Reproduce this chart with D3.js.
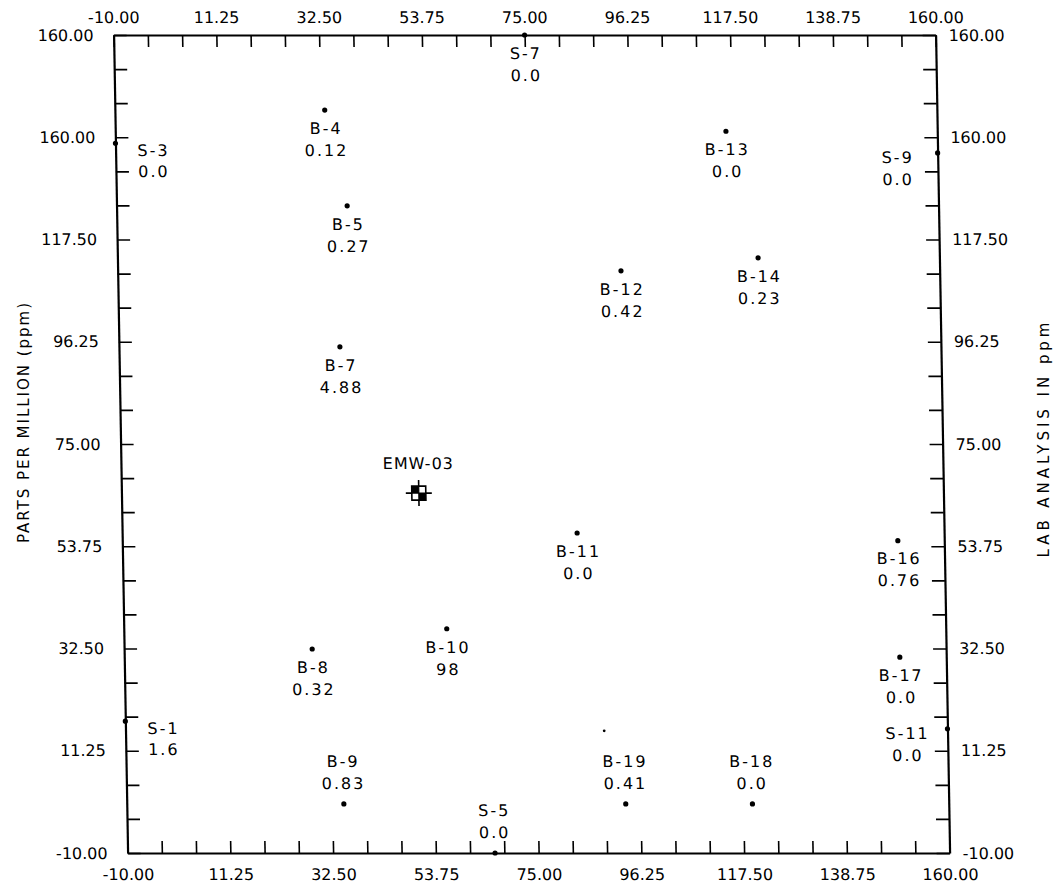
<!DOCTYPE html>
<html><head><meta charset="utf-8">
<script src="https://cdn.jsdelivr.net/npm/d3@7"></script>
<style>
html,body{margin:0;padding:0;background:#fff;}
svg{display:block;background:#fff;}
text{font-family:"DejaVu Sans",sans-serif;fill:#000;}
</style></head><body>
<svg id="chart" width="1054" height="884"></svg>
<script>
// ---- data ----
const xTickValues = [-10, 11.25, 32.5, 53.75, 75, 96.25, 117.5, 138.75, 160];
const xTickLabels = ["-10.00","11.25","32.50","53.75","75.00","96.25","117.50","138.75","160.00"];
const yTickValues = [-10, 11.25, 32.5, 53.75, 75, 96.25, 117.5, 138.75, 160];
const yTickLabels = ["-10.00","11.25","32.50","53.75","75.00","96.25","117.50","160.00","160.00"];
const minorTicksPerMajor = 3;

const sampleNames  = ["S-7","B-4","S-3","B-13","S-9","B-5","B-14","B-12","B-7","B-11","B-16","B-10","B-8","B-17","S-1","S-11","B-9","B-19","B-18","S-5"];
const sampleX      = [75.0, 33.4, -10, 116.3, 160, 37.7, 122.5, 94.1, 35.7, 84.1, 150.4, 56.8, 28.9, 150.4, -10, 160, 34.9, 93.2, 119.4, 66.0];
const sampleY      = [160, 144.4, 137.5, 140.0, 135.5, 124.5, 113.7, 111.0, 95.2, 56.5, 54.9, 36.6, 32.4, 30.7, 17.4, 15.8, 0.2, 0.2, 0.2, -10];
const sampleValues = ["0.0","0.12","0.0","0.0","0.0","0.27","0.23","0.42","4.88","0.0","0.76","98","0.32","0.0","1.6","0.0","0.83","0.41","0.0","0.0"];

// unlabeled stray mark
const strayX = [89.0];
const strayY = [15.4];

const wellNames = ["EMW-03"];
const wellX = [51.5];
const wellY = [64.8];

const leftTitle = "PARTS PER MILLION (ppm)";
const rightTitle = "LAB ANALYSIS IN ppm";

// ---- layout ----
const originX = 113.6, originY = 35, W = 822, H = 818, skewDeg = 0.98;
const svg = d3.select("#chart");

const x = d3.scaleLinear().domain([-10, 160]).range([0, W]);
const y = d3.scaleLinear().domain([-10, 160]).range([H, 0]);

const minorTicks = [];
for (let i = 0; i < xTickValues.length - 1; i++) {
  for (let j = 0; j < minorTicksPerMajor; j++) {
    minorTicks.push(xTickValues[i] + (xTickValues[i+1] - xTickValues[i]) * j / minorTicksPerMajor);
  }
}
minorTicks.push(xTickValues[xTickValues.length - 1]);

const g = svg.append("g").attr("transform", `translate(${originX},${originY}) skewX(${skewDeg})`);

function styleAxis(sel, fs) {
  sel.selectAll("path.domain").attr("stroke", "#000").attr("stroke-width", 2.2);
  sel.selectAll(".tick line").attr("stroke", "#000").attr("stroke-width", 1.6);
  sel.attr("font-size", fs).attr("font-family", '"DejaVu Sans", sans-serif');
  sel.selectAll("text").attr("fill", "#000");
}

// tick marks (inward)
g.append("g").call(d3.axisTop(x).tickValues(minorTicks).tickSizeInner(-12).tickSizeOuter(0).tickFormat("")).call(styleAxis, 16);
g.append("g").attr("transform", `translate(0,${H})`).call(d3.axisBottom(x).tickValues(minorTicks).tickSizeInner(-12).tickSizeOuter(0).tickFormat("")).call(styleAxis, 16);
g.append("g").call(d3.axisLeft(y).tickValues(minorTicks).tickSizeInner(-13).tickSizeOuter(0).tickFormat("")).call(styleAxis, 16);
g.append("g").attr("transform", `translate(${W},0)`).call(d3.axisRight(y).tickValues(minorTicks).tickSizeInner(-13).tickSizeOuter(0).tickFormat("")).call(styleAxis, 16);

// tick labels
function labelAxis(axis, values, labels, pad) {
  return axis.tickValues(values).tickSize(0).tickPadding(pad).tickFormat((d, i) => labels[i]);
}
const lt = g.append("g").call(labelAxis(d3.axisTop(x), xTickValues, xTickLabels, 12)).call(styleAxis, 16);
const lb = g.append("g").attr("transform", `translate(0,${H})`).call(labelAxis(d3.axisBottom(x), xTickValues, xTickLabels, 16)).call(styleAxis, 16);
const ll = g.append("g").call(labelAxis(d3.axisLeft(y), yTickValues, yTickLabels, 20)).call(styleAxis, 16);
const lr = g.append("g").attr("transform", `translate(${W},0)`).call(labelAxis(d3.axisRight(y), yTickValues, yTickLabels, 13)).call(styleAxis, 16);
[lt, lb, ll, lr].forEach(s => s.select("path.domain").remove());

// samples
const samples = sampleNames.map((n, i) => ({name: n, x: sampleX[i], y: sampleY[i], value: sampleValues[i]}));

function placement(d) {
  if (d.x <= -10) return {dx: 38, dy1: 7, dy2: 28};
  if (d.x >= 160) return {dx: -40, dy1: 4, dy2: 26};
  if (d.y < 5) return {dx: 0, dy1: -43, dy2: -21};
  return {dx: 1, dy1: 18, dy2: 40};
}

g.append("g").selectAll("circle").data(samples).join("circle")
  .attr("cx", d => x(d.x)).attr("cy", d => y(d.y)).attr("r", 2.6).attr("fill", "#000");

g.append("g").selectAll("circle").data(strayX.map((v, i) => ({x: v, y: strayY[i]}))).join("circle")
  .attr("cx", d => x(d.x)).attr("cy", d => y(d.y)).attr("r", 1.4).attr("fill", "#000");

const lab = g.append("g").attr("font-size", 16).attr("letter-spacing", 2).attr("text-anchor", "middle");
lab.selectAll("text.nm").data(samples).join("text").attr("class", "nm")
  .attr("x", d => x(d.x) + placement(d).dx).attr("y", d => y(d.y) + placement(d).dy1)
  .attr("dy", "0.36em").text(d => d.name);
lab.selectAll("text.val").data(samples).join("text").attr("class", "val")
  .attr("x", d => x(d.x) + placement(d).dx).attr("y", d => y(d.y) + placement(d).dy2)
  .attr("dy", "0.36em").text(d => d.value);

// monitoring well
const wells = wellNames.map((n, i) => ({name: n, x: wellX[i], y: wellY[i]}));
const wg = g.append("g").selectAll("g").data(wells).join("g")
  .attr("transform", d => `translate(${x(d.x)},${y(d.y)})`);
wg.append("line").attr("x1", -13).attr("x2", 13).attr("stroke", "#000").attr("stroke-width", 1.6);
wg.append("line").attr("y1", -13).attr("y2", 13).attr("stroke", "#000").attr("stroke-width", 1.6);
wg.append("rect").attr("x", -7).attr("y", -7).attr("width", 14).attr("height", 14).attr("fill", "#fff").attr("stroke", "#000").attr("stroke-width", 1.6);
wg.append("rect").attr("x", -7).attr("y", -7).attr("width", 7).attr("height", 7).attr("fill", "#000");
wg.append("rect").attr("x", 0).attr("y", 0).attr("width", 7).attr("height", 7).attr("fill", "#000");
wg.append("line").attr("x1", -7).attr("x2", 7).attr("stroke", "#000").attr("stroke-width", 1.2);
wg.append("line").attr("y1", -7).attr("y2", 7).attr("stroke", "#000").attr("stroke-width", 1.2);
wg.append("text").attr("y", -30).attr("dy", "0.36em").attr("text-anchor", "middle")
  .attr("font-size", 16).attr("letter-spacing", 1).text(d => d.name);

// axis titles
svg.append("text").attr("transform", "translate(24,423) rotate(-90)").attr("text-anchor", "middle")
  .attr("dy", "0.36em").attr("font-size", 15).attr("textLength", 240).attr("lengthAdjust", "spacing").text(leftTitle);
svg.append("text").attr("transform", "translate(1044,440) rotate(-90)").attr("text-anchor", "middle")
  .attr("dy", "0.36em").attr("font-size", 15).attr("textLength", 235).attr("lengthAdjust", "spacing").text(rightTitle);
</script>
</body></html>
